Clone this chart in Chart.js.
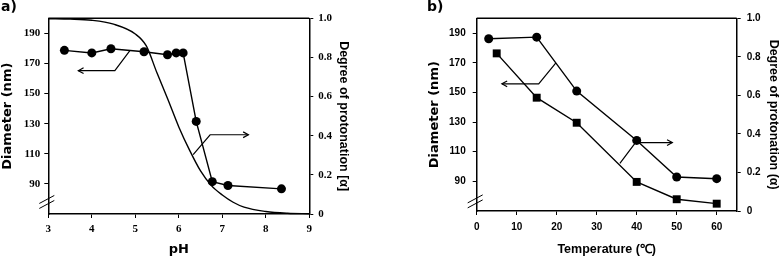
<!DOCTYPE html>
<html>
<head>
<meta charset="utf-8">
<script src="https://cdn.jsdelivr.net/npm/chart.js@4.4.1/dist/chart.umd.min.js"></script>
<style>
  html, body { margin: 0; padding: 0; background: #fff; }
  #wrap { display: flex; width: 780px; height: 259px; }
  canvas { display: block; }
</style>
</head>
<body>
<div id="wrap">
  <canvas id="chartA" width="390" height="259"></canvas>
  <canvas id="chartB" width="390" height="259"></canvas>
</div>
<script>
// --- panel a) diameter and protonation vs pH
const phPoints = [3.37, 4.0, 4.44, 5.2, 5.74, 5.94, 6.1, 6.4, 6.77, 7.13, 8.36];
const diameterPh = [178.7, 177, 179.8, 177.8, 175.8, 177, 177, 131.5, 91.5, 88.9, 86.7];
const phCurve = [3, 3.5, 4, 4.5, 5, 5.25, 5.5, 5.75, 6, 6.25, 6.5, 6.75, 7, 7.25, 7.5, 8, 8.5, 9];
const alphaCurve = [0.998, 0.996, 0.99, 0.97, 0.92, 0.86, 0.72, 0.585, 0.445, 0.325, 0.22, 0.145, 0.097, 0.06, 0.035, 0.013, 0.004, 0.001];
const phTicks = [3, 4, 5, 6, 7, 8, 9];

// --- panel b) diameter and protonation vs temperature
const tempDiameter = [3, 15, 25, 40, 50, 60];
const diameterTemp = [186.2, 187.3, 150.9, 117.6, 92.9, 91.8];
const tempAlpha = [5, 15, 25, 40, 50, 60];
const alphaTemp = [0.818, 0.588, 0.458, 0.151, 0.061, 0.038];
const tempTicks = [0, 10, 20, 30, 40, 50, 60];

const diameterTicks = [90, 110, 130, 150, 170, 190];
const alphaTicks = [0, 0.2, 0.4, 0.6, 0.8, 1];

Chart.defaults.color = "#000";

const pairs = (xs, ys) => xs.map((x, i) => ({ x: x, y: ys[i] }));

function drawArrow(ctx, pts, head) {
  ctx.beginPath();
  pts.forEach((p, i) => (i ? ctx.lineTo(p[0], p[1]) : ctx.moveTo(p[0], p[1])));
  ctx.stroke();
  const tip = head === "start" ? pts[0] : pts[pts.length - 1];
  const from = head === "start" ? pts[1] : pts[pts.length - 2];
  const ang = Math.atan2(tip[1] - from[1], tip[0] - from[0]);
  const L = 6, a = 0.5;
  ctx.beginPath();
  ctx.moveTo(tip[0] - L * Math.cos(ang - a), tip[1] - L * Math.sin(ang - a));
  ctx.lineTo(tip[0], tip[1]);
  ctx.lineTo(tip[0] - L * Math.cos(ang + a), tip[1] - L * Math.sin(ang + a));
  ctx.stroke();
}

// frame top, panel letter, axis break and the two pointer arrows
const decor = {
  id: "decor",
  afterDraw(chart, args, opts) {
    const { ctx, chartArea: ca, scales } = chart;
    ctx.save();
    ctx.strokeStyle = "#000";
    ctx.lineWidth = 1.5;
    ctx.beginPath();
    ctx.moveTo(ca.left, ca.top);
    ctx.lineTo(ca.right, ca.top);
    ctx.stroke();

    ctx.lineWidth = 1.2;
    opts.arrows.forEach(ar => {
      const pts = ar.pts.map(p => [scales.x.getPixelForValue(p[0]), scales[ar.axis].getPixelForValue(p[1])]);
      drawArrow(ctx, pts, ar.head);
    });

    // axis break
    const by = scales.y.getPixelForValue(opts.breakAt);
    ctx.lineWidth = 1;
    [-2.5, 2.5].forEach(d => {
      ctx.beginPath();
      ctx.moveTo(ca.left - 9, by + d + 4);
      ctx.lineTo(ca.left + 6, by + d - 4);
      ctx.stroke();
    });

    ctx.fillStyle = "#000";
    ctx.font = "bold 14px 'DejaVu Sans'";
    ctx.textBaseline = "top";
    ctx.fillText(opts.label, opts.labelX, 0);
    ctx.restore();
  }
};

function axisBase(tickFont) {
  return {
    grid: { display: true, drawOnChartArea: false, drawTicks: true, tickLength: 4, color: "#000", lineWidth: 1 },
    border: { display: true, color: "#000", width: 1.5 },
    ticks: { font: tickFont, autoSkip: false, maxRotation: 0 }
  };
}

function makeChart(id, cfg) {
  const tf = cfg.tickFont;
  const xBase = axisBase(tf), yBase = axisBase(tf), y2Base = axisBase(tf);
  return new Chart(document.getElementById(id), {
    type: "line",
    data: { datasets: cfg.datasets },
    options: {
      responsive: false,
      animation: false,
      layout: { padding: cfg.padding },
      plugins: { legend: { display: false }, tooltip: { enabled: false }, decor: cfg.decor },
      scales: {
        x: Object.assign(xBase, {
          type: "linear", min: cfg.xMin, max: cfg.xMax,
          afterBuildTicks: s => { s.ticks = cfg.xTicks.map(v => ({ value: v })); },
          afterFit: s => { s.height = cfg.xHeight; },
          ticks: Object.assign(xBase.ticks, { padding: cfg.xPad }),
          title: { display: true, text: cfg.xTitle, font: cfg.xTitleFont, padding: 0 }
        }),
        y: Object.assign(yBase, {
          position: "left", min: 70, max: 200,
          afterBuildTicks: s => { s.ticks = diameterTicks.map(v => ({ value: v })); },
          afterFit: s => { s.width = cfg.yWidth; },
          ticks: Object.assign(yBase.ticks, { padding: cfg.yPad }),
          title: { display: true, text: "Diameter (nm)", font: cfg.yTitleFont, padding: 0 }
        }),
        y2: Object.assign(y2Base, {
          position: "right", min: 0, max: 1,
          afterBuildTicks: s => { s.ticks = alphaTicks.map(v => ({ value: v })); },
          afterFit: s => { s.width = cfg.y2Width; },
          ticks: Object.assign(y2Base.ticks, { padding: cfg.y2Pad }),
          title: { display: true, text: cfg.y2Title, font: { family: "Liberation Sans", weight: "bold", size: 12.5, lineHeight: 1.1 }, padding: 0 }
        })
      }
    },
    plugins: [decor]
  });
}

const lineStyle = { borderColor: "#000", borderWidth: 1.4, backgroundColor: "#000", pointBackgroundColor: "#000", pointBorderWidth: 0, clip: false, tension: 0 };

makeChart("chartA", {
  padding: { left: 0, right: 39.8, top: 18.3, bottom: 1.85 },
  tickFont: { family: "Liberation Serif", weight: "bold", size: 11 },
  xMin: 3, xMax: 9, xTicks: phTicks, xHeight: 43.15, xPad: 5,
  yWidth: 48.3, yPad: 4, y2Width: 40.9, y2Pad: 5,
  xTitle: "pH",
  xTitleFont: { family: "DejaVu Sans", weight: "bold", size: 13, lineHeight: 1.1 },
  yTitleFont: { family: "DejaVu Sans", weight: "bold", size: 13, lineHeight: 1.1 },
  y2Title: "Degree of protonation [\u03b1]",
  decor: {
    label: "a)", labelX: 1, breakAt: 78,
    arrows: [
      { axis: "y", head: "start", pts: [[3.69, 165.2], [4.53, 165.2], [4.88, 178.7]] },
      { axis: "y2", head: "end", pts: [[6.33, 0.303], [6.72, 0.405], [7.6, 0.405]] }
    ]
  },
  datasets: [
    Object.assign({}, lineStyle, { data: pairs(phCurve, alphaCurve), yAxisID: "y2", pointRadius: 0, cubicInterpolationMode: "monotone" }),
    Object.assign({}, lineStyle, { data: pairs(phPoints, diameterPh), yAxisID: "y", pointRadius: 4.5, pointStyle: "circle" })
  ]
});

makeChart("chartB", {
  padding: { left: 37.85, right: 0, top: 18.3, bottom: 2.8 },
  tickFont: { family: "Liberation Sans", weight: "bold", size: 10 },
  xMin: 0, xMax: 65, xTicks: tempTicks, xHeight: 45.2, xPad: 6,
  yWidth: 48.85, yPad: 7, y2Width: 43.3, y2Pad: 6,
  xTitle: "Temperature (\u2103)",
  xTitleFont: { family: "Liberation Sans", weight: "bold", size: 12.5, lineHeight: 1.1 },
  yTitleFont: { family: "DejaVu Sans", weight: "bold", size: 13, lineHeight: 1.1 },
  y2Title: "Degree of protonation (\u03b1)",
  decor: {
    label: "b)", labelX: 37, breakAt: 76.5,
    arrows: [
      { axis: "y", head: "start", pts: [[6.3, 155.8], [15.5, 155.8], [19.8, 170]] },
      { axis: "y2", head: "end", pts: [[35.8, 0.247], [39.7, 0.355], [48.9, 0.355]] }
    ]
  },
  datasets: [
    Object.assign({}, lineStyle, { data: pairs(tempAlpha, alphaTemp), yAxisID: "y2", pointRadius: 5.6, pointStyle: "rect" }),
    Object.assign({}, lineStyle, { data: pairs(tempDiameter, diameterTemp), yAxisID: "y", pointRadius: 4.5, pointStyle: "circle" })
  ]
});
</script>
</body>
</html>
